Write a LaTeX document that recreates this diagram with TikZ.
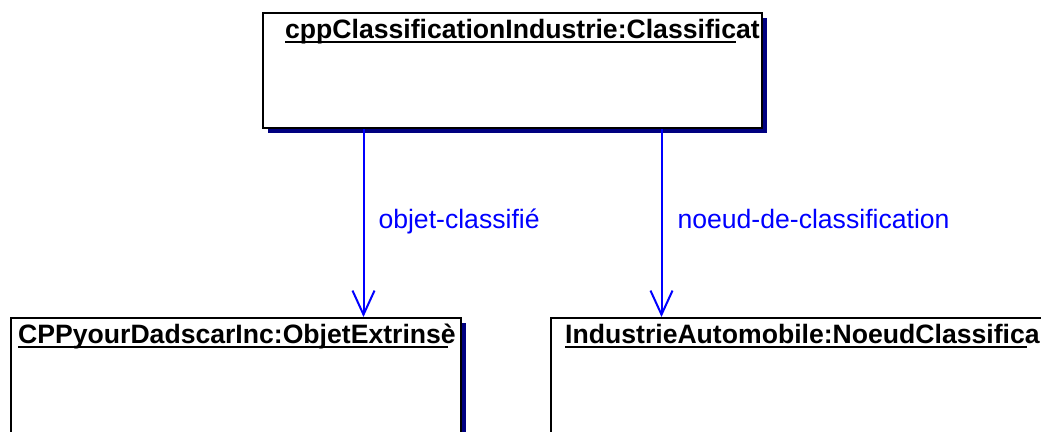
\documentclass[tikz,border=0pt]{standalone}
\usepackage{fontspec}
\setmainfont{Liberation Sans}
\usepackage{tikz}
\usetikzlibrary{arrows.meta}
\definecolor{navy}{HTML}{000080}
\definecolor{linkblue}{HTML}{0000FF}

\tikzset{
  objbox/.style={draw=black, fill=white, line width=2pt, rectangle, anchor=north west, inner sep=0pt},
  objtitle/.style={anchor=base west, inner sep=0pt, font=\bfseries\fontsize{26.6}{32}\selectfont},
  link/.style={draw=linkblue, line width=2pt, -{Straight Barb[length=24pt, width=22pt]}},
  linklabel/.style={text=linkblue, anchor=base west, inner sep=0pt, font=\fontsize{26.6}{32}\selectfont}
}

\begin{document}
\begin{tikzpicture}[x=1pt, y=-1pt]
  \useasboundingbox (0,0) rectangle (1041,431);
  \foreach \nm/\xx/\yy/\ww/\hh/\tx/\ttl/\ul in
      {top/262/12/499/115/23/cppClassificationIndustrie:Classificat/451,
       objet/10/317/450/160/8/CPPyourDadscarInc:ObjetExtrinsè/430,
       noeud/550/317/560/160/15/IndustrieAutomobile:NoeudClassifica/462} {
    \fill[navy] (\xx+6, \yy+6) rectangle ++(\ww, \hh);
    \node[objbox, minimum width=\ww pt, minimum height=\hh pt] (\nm) at (\xx, \yy) {};
    \begin{scope}
      \clip (\nm.north west) rectangle (\nm.south east);
      \node[objtitle] (\nm-title) at (\xx+\tx, \yy+26) {\ttl};
    \end{scope}
    \draw[line width=2pt] ([yshift=-4pt]\nm-title.base west) -- ++(\ul, 0);
  }
  % links
  \draw[link] ([xshift=-149pt]top.south) -- node[linklabel, pos=0.53, xshift=14pt] {objet-classifié}
    ([xshift=-149pt]top.south |- objet.north);
  \draw[link] ([xshift=149pt]top.south) -- node[linklabel, pos=0.53, xshift=15pt] {noeud-de-classification}
    ([xshift=149pt]top.south |- noeud.north);
\end{tikzpicture}
\end{document}
